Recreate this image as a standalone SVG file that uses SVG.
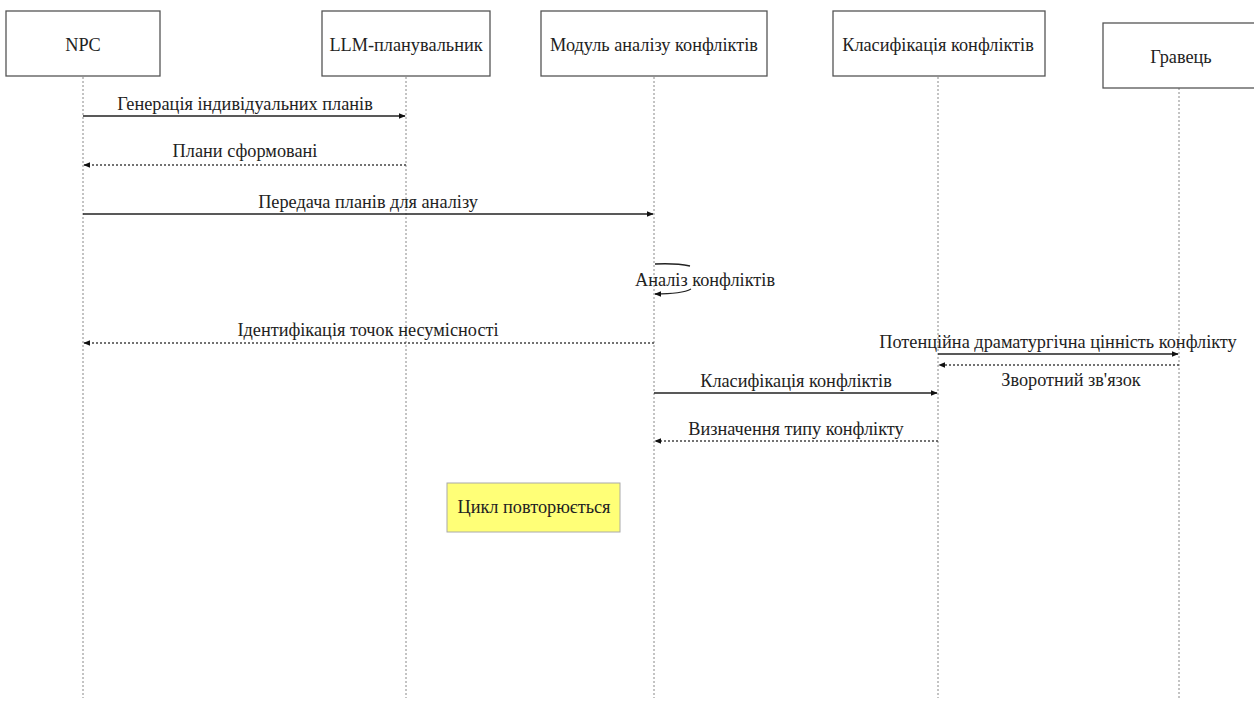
<svg xmlns="http://www.w3.org/2000/svg" width="1254" height="702" viewBox="0 0 1254 702">
<style>
.box{fill:#fff;stroke:#555;stroke-width:1.3}
.t{font-family:'Liberation Serif','DejaVu Serif','Times New Roman',serif;font-size:18.3px;fill:#222;text-anchor:middle}
.life{stroke:#888;stroke-width:1;stroke-dasharray:2,2;fill:none}
.msg{stroke:#222;stroke-width:1.3;fill:none}
.ret{stroke:#444;stroke-width:1.3;stroke-dasharray:2,2;fill:none}
.note{fill:#ffff77;stroke:#aaa;stroke-width:1}
</style>
<defs>
<marker id="ah" viewBox="0 0 10 10" refX="9" refY="5" markerWidth="7" markerHeight="7" orient="auto-start-reverse" markerUnits="userSpaceOnUse">
<path d="M0,1 L10,5 L0,9 Z" fill="#111"/>
</marker>
</defs>
<rect width="1254" height="702" fill="#fff"/>
<g id="lifelines">
<line class="life" x1="83" y1="77" x2="83" y2="698"/>
<line class="life" x1="406" y1="77" x2="406" y2="698"/>
<line class="life" x1="654" y1="77" x2="654" y2="698"/>
<line class="life" x1="938" y1="77" x2="938" y2="698"/>
<line class="life" x1="1179" y1="88" x2="1179" y2="700"/>
</g>
<g id="npc"><rect class="box" x="6" y="11" width="154" height="65"/><text class="t" x="83" y="51">NPC</text></g>
<g id="llm"><rect class="box" x="322" y="11" width="168" height="65"/><text class="t" x="406" y="51">LLM-планувальник</text></g>
<g id="module"><rect class="box" x="541" y="11" width="226" height="65"/><text class="t" x="654" y="51">Модуль аналізу конфліктів</text></g>
<g id="classif"><rect class="box" x="833" y="11" width="212" height="65"/><text class="t" x="938" y="51">Класифікація конфліктів</text></g>
<g id="player"><rect class="box" x="1103" y="23" width="160" height="65"/><text class="t" x="1181" y="63">Гравець</text></g>
<g id="connectors">
<line class="msg" x1="83" y1="116" x2="405" y2="116" marker-end="url(#ah)"/>
<text class="t" x="245" y="110">Генерація індивідуальних планів</text>
<line class="ret" x1="406" y1="165" x2="84" y2="165" marker-end="url(#ah)"/>
<text class="t" x="245" y="157">Плани сформовані</text>
<line class="msg" x1="83" y1="214" x2="653" y2="214" marker-end="url(#ah)"/>
<text class="t" x="368" y="208">Передача планів для аналізу</text>
<path class="msg" d="M655,264 Q676,263 690,266"/>
<path class="msg" d="M691,289 Q682,294 655,294" marker-end="url(#ah)"/>
<text class="t" x="705" y="286">Аналіз конфліктів</text>
<line class="ret" x1="654" y1="343" x2="84" y2="343" marker-end="url(#ah)"/>
<text class="t" x="368" y="336">Ідентифікація точок несумісності</text>
<line class="msg" x1="938" y1="354" x2="1178" y2="354" marker-end="url(#ah)"/>
<text class="t" x="1058" y="348">Потенційна драматургічна цінність конфлікту</text>
<line class="ret" x1="1179" y1="365" x2="939" y2="365" marker-end="url(#ah)"/>
<text class="t" x="1071" y="386">Зворотний зв'язок</text>
<line class="msg" x1="654" y1="393" x2="937" y2="393" marker-end="url(#ah)"/>
<text class="t" x="796" y="387">Класифікація конфліктів</text>
<line class="ret" x1="938" y1="441" x2="655" y2="441" marker-end="url(#ah)"/>
<text class="t" x="796" y="435">Визначення типу конфлікту</text>
</g>
<g id="note"><rect class="note" x="447" y="483" width="173" height="49"/><text class="t" x="534" y="513">Цикл повторюється</text></g>
</svg>
